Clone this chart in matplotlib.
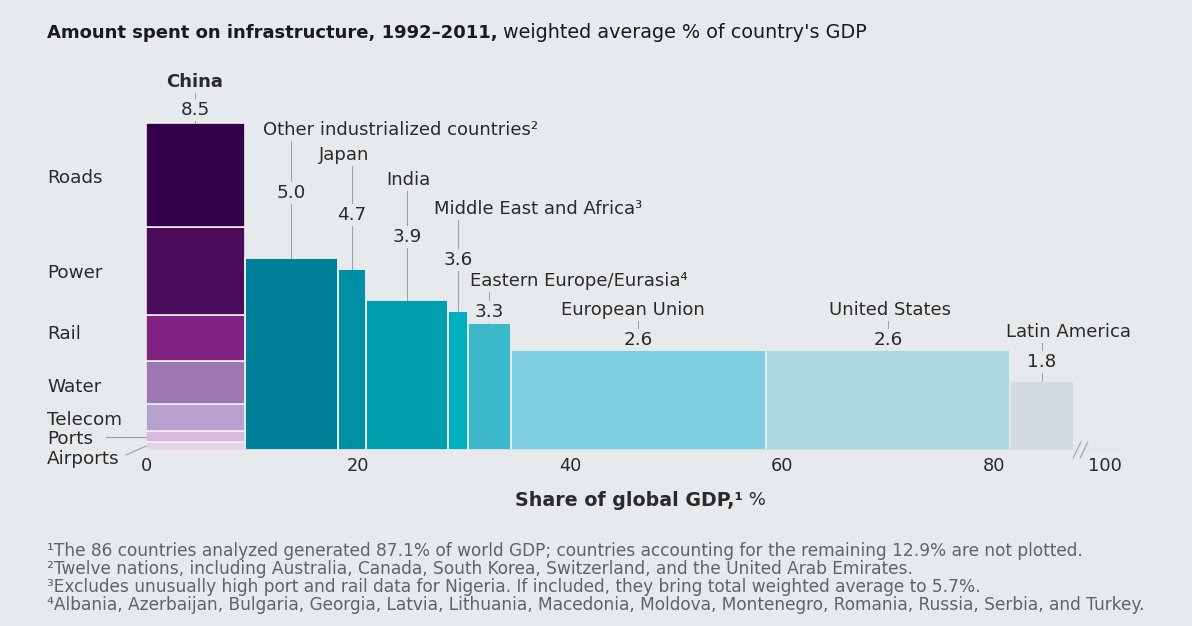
import matplotlib
matplotlib.use("Agg")
import matplotlib.pyplot as plt
import numpy as np

# ---------------- data ----------------
regions = ["China", "Other industrialized countries²", "Japan", "India",
           "Middle East and Africa³", "Eastern Europe/Eurasia⁴",
           "European Union", "United States", "Latin America"]
gdp_share = [9.3, 8.8, 2.7, 7.7, 1.9, 4.0, 24.1, 23.0, 6.0]      # % of global GDP (bar widths)
infra_spend = [8.5, 5.0, 4.7, 3.9, 3.6, 3.3, 2.6, 2.6, 1.8]      # % of country's GDP (bar heights)
value_labels = ["8.5", "5.0", "4.7", "3.9", "3.6", "3.3", "2.6", "2.6", "1.8"]

china_sectors = ["Roads", "Power", "Rail", "Water", "Telecom", "Ports", "Airports"]
china_sector_values = [2.7, 2.3, 1.2, 1.1, 0.7, 0.3, 0.2]

x_ticks = [0, 20, 40, 60, 80]
x_tick_labels = ["0", "20", "40", "60", "80"]
last_tick_label = "100"

footnotes = [
    "¹The 86 countries analyzed generated 87.1% of world GDP; countries accounting for the remaining 12.9% are not plotted.",
    "²Twelve nations, including Australia, Canada, South Korea, Switzerland, and the United Arab Emirates.",
    "³Excludes unusually high port and rail data for Nigeria. If included, they bring total weighted average to 5.7%.",
    "⁴Albania, Azerbaijan, Bulgaria, Georgia, Latvia, Lithuania, Macedonia, Moldova, Montenegro, Romania, Russia, Serbia, and Turkey.",
]

# ---------------- style ----------------
BG = "#e7eaed"
SEP = "#eef0f4"
TXT = "#2a2a2a"
LEAD = "#9a9ea3"
FONT = ["DejaVu Sans"]
plt.rcParams["font.family"] = FONT

sector_colors = ["#35004a", "#4c0c5c", "#822283", "#9d77b2", "#b6a0cf", "#d6b9dd", "#e5d2e9"]
region_colors = [None, "#007f98", "#0090a6", "#009fae", "#00b0c1", "#3bb8c9",
                 "#7dcfe0", "#acd8e4", "#d3d9e0"]

W, H = 1192, 626
fig = plt.figure(figsize=(W / 100, H / 100), dpi=100, facecolor=BG)
renderer = fig.canvas.get_renderer()

# pixel geometry of plotting area
X0_PX, BASE_PX = 146, 450
PX_PER_X, PX_PER_Y = 10.6, 38.5
X_RIGHT_PX = 1121
ax = fig.add_axes([X0_PX / W, (H - BASE_PX) / H, (X_RIGHT_PX - X0_PX) / W, BASE_PX / H])
ax.set_facecolor(BG)
ax.set_xlim(0, (X_RIGHT_PX - X0_PX) / PX_PER_X)
ax.set_ylim(0, BASE_PX / PX_PER_Y)
for s in ax.spines.values():
    s.set_visible(False)
ax.set_yticks([])


def dx(px):  # figure pixel x -> data x
    return (px - X0_PX) / PX_PER_X


def dy(px):  # figure pixel y (from top) -> data y
    return (BASE_PX - px) / PX_PER_Y


def fit_width(txt, target_px):
    """scale font size so that the text spans target_px pixels"""
    w = txt.get_window_extent(renderer).width
    txt.set_fontsize(txt.get_fontsize() * target_px / w)


lefts = np.concatenate([[0], np.cumsum(gdp_share)[:-1]])
centers = lefts + np.array(gdp_share) / 2

# China stacked bar (bottom-up)
bottom = 0.0
seg_centers = {}
for name, val, col in reversed(list(zip(china_sectors, china_sector_values, sector_colors))):
    ax.bar(lefts[0], val, gdp_share[0], bottom=bottom, align="edge", color=col,
           edgecolor=SEP, linewidth=1.2)
    seg_centers[name] = bottom + val / 2
    bottom += val

# other regions
for i in range(1, len(regions)):
    ax.bar(lefts[i], infra_spend[i], gdp_share[i], align="edge", color=region_colors[i],
           edgecolor=BG, linewidth=1.4)

# axis line with break
AX_COL = "#a9adb2"
ax.plot([0, dx(1075)], [0, 0], color=AX_COL, lw=1.0, solid_capstyle="butt", zorder=1)
ax.plot([dx(1087), ax.get_xlim()[1]], [0, 0], color=AX_COL, lw=1.0, zorder=1)
for xb in (dx(1077), dx(1084)):
    ax.plot([xb - 0.35, xb + 0.35], [-0.2, 0.2], color=AX_COL, lw=1.0, clip_on=False)

ax.set_xticks(x_ticks + [dx(1105)])
ax.set_xticklabels(x_tick_labels + [last_tick_label])
ax.tick_params(axis="x", length=0, pad=5, labelsize=12.8, labelcolor=TXT)

# sector labels on the left
sector_label_px = {"Roads": 178, "Power": 273, "Rail": 334, "Water": 387,
                   "Telecom": 420, "Ports": 439, "Airports": 459}
for name in china_sectors:
    ax.text(dx(47), dy(sector_label_px[name]), name, ha="left", va="center",
            fontsize=13.2, color=TXT, clip_on=False)
ax.plot([dx(106), 0], [seg_centers["Ports"], seg_centers["Ports"]], color=LEAD, lw=0.8,
        clip_on=False)
ax.plot([dx(126), dx(146)], [dy(455), seg_centers["Airports"]], color=LEAD, lw=0.8,
        clip_on=False)

# region labels: (label x px, label y px, alignment, value y px)
label_layout = [
    (195, 82, "center", 110),
    (263, 130, "left", 193),
    (344, 155, "center", 215),
    (408, 180, "center", 237),
    (434, 209, "left", 260),
    (470, 281, "left", 312),
    (633, 310, "center", 340),
    (890, 310, "center", 340),
    (1068, 332, "center", 362),
]
for i, (lx, ly, ha, vy) in enumerate(label_layout):
    top = infra_spend[i]
    xc = centers[i]
    ax.plot([xc, xc], [top, dy(ly + 9)], color=LEAD, lw=0.7, zorder=2)
    ax.text(xc, dy(vy), value_labels[i], ha="center", va="center", fontsize=13.2,
            color=TXT, zorder=3,
            bbox=dict(boxstyle="square,pad=0.12", fc=BG, ec="none"))
    ax.text(dx(lx), dy(ly), regions[i], ha=ha, va="center",
            fontsize=13.0, color=TXT, zorder=3,
            fontweight="bold" if i == 0 else "normal",
            bbox=dict(boxstyle="square,pad=0.1", fc=BG, ec="none"))

# x-axis title
XT_Y = 1 - 500 / H
xt1 = fig.text(515 / W, XT_Y, "Share of global GDP,¹", ha="left", va="center",
               fontsize=13, fontweight="bold", color=TXT)
fit_width(xt1, 741 - 515)
x_end = xt1.get_window_extent(renderer).x1
fig.text(x_end / W, XT_Y, " %", ha="left", va="center", fontsize=13, color=TXT)

# title
TITLE_Y = 1 - 33 / H
t1 = fig.text(47 / W, TITLE_Y, "Amount spent on infrastructure, 1992–2011,", ha="left",
              va="center", fontsize=13, fontweight="bold", color="#1a1a1a")
fit_width(t1, 498 - 47)
x_end = t1.get_window_extent(renderer).x1
t2 = fig.text(x_end / W + 5 / W, TITLE_Y, "weighted average % of country's GDP", ha="left",
              va="center", fontsize=13, color="#1a1a1a")
fit_width(t2, 866 - x_end - 5)

# footnotes
fn = []
for k, line in enumerate(footnotes):
    fn.append(fig.text(47 / W, 1 - (551 + 18 * k) / H, line, ha="left", va="center",
                       fontsize=11, color="#5f6368"))
fit_width(fn[0], 1088 - 47)
for t in fn[1:]:
    t.set_fontsize(fn[0].get_fontsize())

fig.savefig("out.png", dpi=100, facecolor=BG)
